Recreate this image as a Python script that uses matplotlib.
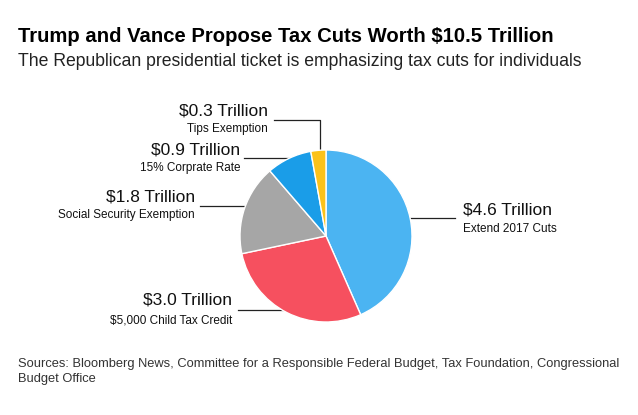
import matplotlib.pyplot as plt

W, H = 638, 415
values = [4.6, 3.0, 1.8, 0.9, 0.3]
amounts = ["$4.6 Trillion", "$3.0 Trillion", "$1.8 Trillion", "$0.9 Trillion", "$0.3 Trillion"]
names = ["Extend 2017 Cuts", "$5,000 Child Tax Credit", "Social Security Exemption",
         "15% Corprate Rate", "Tips Exemption"]
colors = ["#4bb4f2", "#f6505f", "#a6a6a6", "#1a9de8", "#fbc21a"]

fig = plt.figure(figsize=(W / 100, H / 100), dpi=100)
plt.rcParams['font.family'] = ['Liberation Sans', 'DejaVu Sans']

def fx(x):
    return x / W

def fy(y):
    return 1 - y / H

cx, cy, r = 326, 236, 86
ax = fig.add_axes([fx(cx - r), fy(cy + r), 2 * r / W, 2 * r / H])
ax.pie(values, colors=colors, startangle=90, counterclock=False,
       wedgeprops=dict(edgecolor="white", linewidth=1))
ax.set_xlim(-1, 1)
ax.set_ylim(-1, 1)
ax.set_aspect("equal")

# label layout in pixels: (text x, amount y, name y, ha, line points)
layout = [
    (463, 210, 229, "left", [(410, 218), (455, 218)]),
    (232, 300, 320, "right", [(238, 310), (300, 310)]),
    (195, 197, 215, "right", [(200, 206), (246, 206)]),
    (240, 150, 168, "right", [(244, 158), (292, 158)]),
    (268, 111, 129, "right", [(274, 120), (320, 120), (320, 152)]),
]
lax = fig.add_axes([0, 0, 1, 1], zorder=-1)
lax.set_xlim(0, W)
lax.set_ylim(H, 0)
lax.axis("off")
for (tx, ay, ny, ha, pts), amt, nm in zip(layout, amounts, names):
    fig.text(fx(tx), fy(ay), amt, ha=ha, va="center", fontsize=12.5, color="#111111")
    fig.text(fx(tx), fy(ny), nm, ha=ha, va="center", fontsize=8.5, color="#111111")
    lax.plot([p[0] for p in pts], [p[1] for p in pts], color="#222222", lw=0.9)

fig.text(fx(18), fy(37), "Trump and Vance Propose Tax Cuts Worth $10.5 Trillion",
         fontsize=14.6, fontweight="bold", va="center")
fig.text(fx(18), fy(62), "The Republican presidential ticket is emphasizing tax cuts for individuals",
         fontsize=12.7, va="center", color="#222222")
fig.text(fx(18), fy(364), "Sources: Bloomberg News, Committee for a Responsible Federal Budget, Tax Foundation, Congressional",
         fontsize=9.3, va="center", color="#333333")
fig.text(fx(18), fy(379), "Budget Office", fontsize=9.3, va="center", color="#333333")

fig.savefig("out.png", dpi=100)
